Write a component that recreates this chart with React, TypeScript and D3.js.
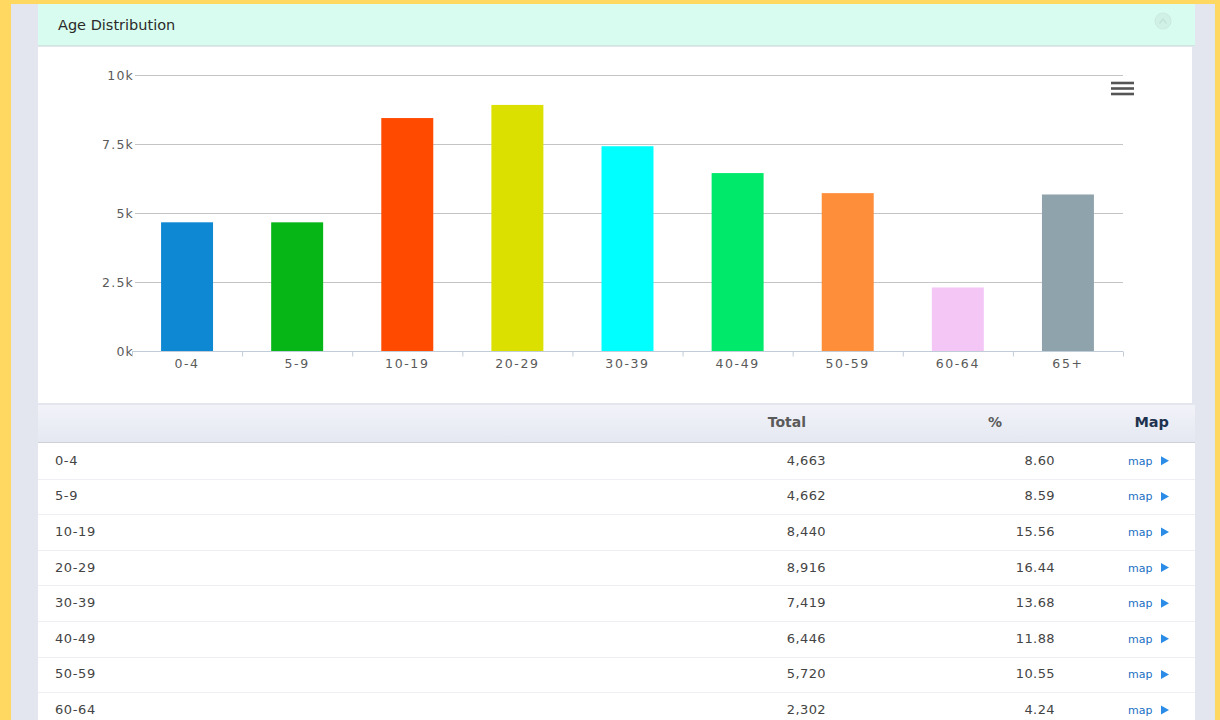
import * as React from "react";
import * as d3 from "d3";

const categories = ["0-4", "5-9", "10-19", "20-29", "30-39", "40-49", "50-59", "60-64", "65+"];
const totals = [4663, 4662, 8440, 8916, 7419, 6446, 5720, 2302, 5671];
const percents = ["8.60", "8.59", "15.56", "16.44", "13.68", "11.88", "10.55", "4.24", "10.46"];
const barColors = ["#0E88D3", "#06B516", "#FF4A00", "#DCE000", "#00FFFF", "#00E96A", "#FF8E3A", "#F3C6F6", "#8FA3AC"];
const yTicks = [0, 2500, 5000, 7500, 10000];
const yTickLabels = ["0k", "2.5k", "5k", "7.5k", "10k"];

const W = 1220;
const H = 720;
const font = "'DejaVu Sans', Verdana, sans-serif";

const App: React.FC = () => {
  const gx = React.useRef<SVGGElement>(null);

  // plot area
  const plotLeft = 132;
  const plotRight = 1123;
  const plotTop = 75;
  const plotBottom = 351;

  const x = d3.scaleBand<string>().domain(categories).range([plotLeft, plotRight]).padding(0);
  const y = d3.scaleLinear().domain([0, 10000]).range([plotBottom, plotTop]);
  const barW = x.step() * 0.472;

  const fmt = d3.format(",");

  // x axis through d3
  React.useEffect(() => {
    if (!gx.current) return;
    const g = d3.select(gx.current);
    g.selectAll("*").remove();
    g.append("line")
      .attr("x1", plotLeft)
      .attr("x2", plotRight)
      .attr("y1", 0)
      .attr("y2", 0)
      .attr("stroke", "#C0CCD8");
    const bounds = categories.slice(1).map((c) => x(c) as number);
    g.selectAll("line.tk")
      .data([plotLeft, ...bounds, plotRight])
      .join("line")
      .attr("class", "tk")
      .attr("x1", (d) => d + 0.5)
      .attr("x2", (d) => d + 0.5)
      .attr("y1", 0)
      .attr("y2", 5)
      .attr("stroke", "#C0CCD8");
    g.selectAll("text")
      .data(categories)
      .join("text")
      .attr("x", (d) => (x(d) as number) + x.bandwidth() / 2)
      .attr("y", 16)
      .attr("text-anchor", "middle")
      .attr("font-family", font)
      .attr("font-size", 12.5)
      .attr("letter-spacing", 1.6)
      .attr("fill", "#5A5A5A")
      .text((d) => d);
  }, []);

  const rowTop = 443;
  const rowH = 35.6;
  // only the rows that fit in the frame, as in the screenshot
  const rows = categories.filter((_, i) => rowTop + rowH * i + rowH / 2 + 4 < H);

  return (
    <svg width={W} height={H} style={{ position: "fixed", left: 0, top: 0 }}>
      <defs>
        <linearGradient id="th" x1="0" y1="0" x2="0" y2="1">
          <stop offset="0" stopColor="#F2F3F9" />
          <stop offset="1" stopColor="#E5E8F1" />
        </linearGradient>
      </defs>
      <rect width={W} height={H} fill="#FFD862" />
      <rect x={11} y={4} width={1204} height={H - 4} fill="#E3E5EF" />

      {/* header */}
      <rect x={38} y={4} width={1157} height={41} fill="#D8FCEF" />
      <line x1={38} x2={1195} y1={45.5} y2={45.5} stroke="#CFE6DD" />
      <text x={58} y={30} fontFamily={font} fontSize={14.5} fill="#2A2A2A">
        Age Distribution
      </text>
      <circle cx={1163} cy={21} r={8} fill="#D0F2E6" stroke="#CBEBDF" strokeWidth={1} />
      <path d="M1159.5,23.5 L1163,19 L1166.5,23.5" fill="none" stroke="#C2E3D6" strokeWidth={1.3} />

      {/* chart panel */}
      <rect x={38} y={47} width={1154} height={356} fill="#FFFFFF" />
      <g>
        {yTicks.map((t, i) => (
          <g key={t}>
            <line x1={plotLeft + 3} x2={plotRight} y1={Math.round(y(t)) + 0.5} y2={Math.round(y(t)) + 0.5} stroke="#C4C4C4" />
            <text
              x={plotLeft + 2}
              y={y(t) + 4.5}
              textAnchor="end"
              fontFamily={font}
              fontSize={12.5}
              letterSpacing={1.2}
              fill="#5A5A5A"
            >
              {yTickLabels[i]}
            </text>
          </g>
        ))}
      </g>
      <g>
        {categories.map((c, i) => (
          <rect
            key={c}
            x={(x(c) as number) + (x.bandwidth() - barW) / 2}
            y={y(totals[i])}
            width={barW}
            height={plotBottom - y(totals[i])}
            fill={barColors[i]}
          />
        ))}
      </g>
      <g ref={gx} transform={`translate(0,${plotBottom + 0.5})`} />
      <g stroke="#555" strokeWidth={2.6} strokeLinecap="butt">
        {[83, 88.5, 94].map((yy) => (
          <line key={yy} x1={1111} x2={1134} y1={yy} y2={yy} />
        ))}
      </g>

      {/* table header */}
      <rect x={38} y={405} width={1157} height={37} fill="url(#th)" />
      <line x1={38} x2={1195} y1={442.5} y2={442.5} stroke="#CDD1DB" />
      <text x={806} y={427} textAnchor="end" fontFamily={font} fontSize={14} fontWeight="bold" fill="#5A5A5A">
        Total
      </text>
      <text x={995} y={427} textAnchor="middle" fontFamily={font} fontSize={14} fontWeight="bold" fill="#5A5A5A">
        %
      </text>
      <text x={1169} y={427} textAnchor="end" fontFamily={font} fontSize={14.5} fontWeight="bold" fill="#1F3350">
        Map
      </text>

      {/* table body */}
      <rect x={38} y={443} width={1157} height={H - 443} fill="#FFFFFF" />
      {rows.map((c, i) => {
        const cy = rowTop + rowH * i + rowH / 2;
        return (
          <g key={c}>
            {i > 0 && (
              <line x1={38} x2={1195} y1={Math.round(rowTop + rowH * i) + 0.5} y2={Math.round(rowTop + rowH * i) + 0.5} stroke="#EEEFF3" />
            )}
            <text x={55} y={cy + 4} fontFamily={font} fontSize={13} letterSpacing={0.6} fill="#444">
              {c}
            </text>
            <text x={826} y={cy + 4} textAnchor="end" fontFamily={font} fontSize={13} letterSpacing={0.4} fill="#444">
              {fmt(totals[i])}
            </text>
            <text x={1055} y={cy + 4} textAnchor="end" fontFamily={font} fontSize={13} letterSpacing={0.4} fill="#444">
              {percents[i]}
            </text>
            <text x={1128} y={cy + 4} fontFamily={font} fontSize={11} fill="#1A6FC4">
              map
            </text>
            <path d={`M1161,${cy - 4.5} L1169,${cy} L1161,${cy + 4.5} Z`} fill="#2A8CE6" />
          </g>
        );
      })}
    </svg>
  );
};

export default App;
